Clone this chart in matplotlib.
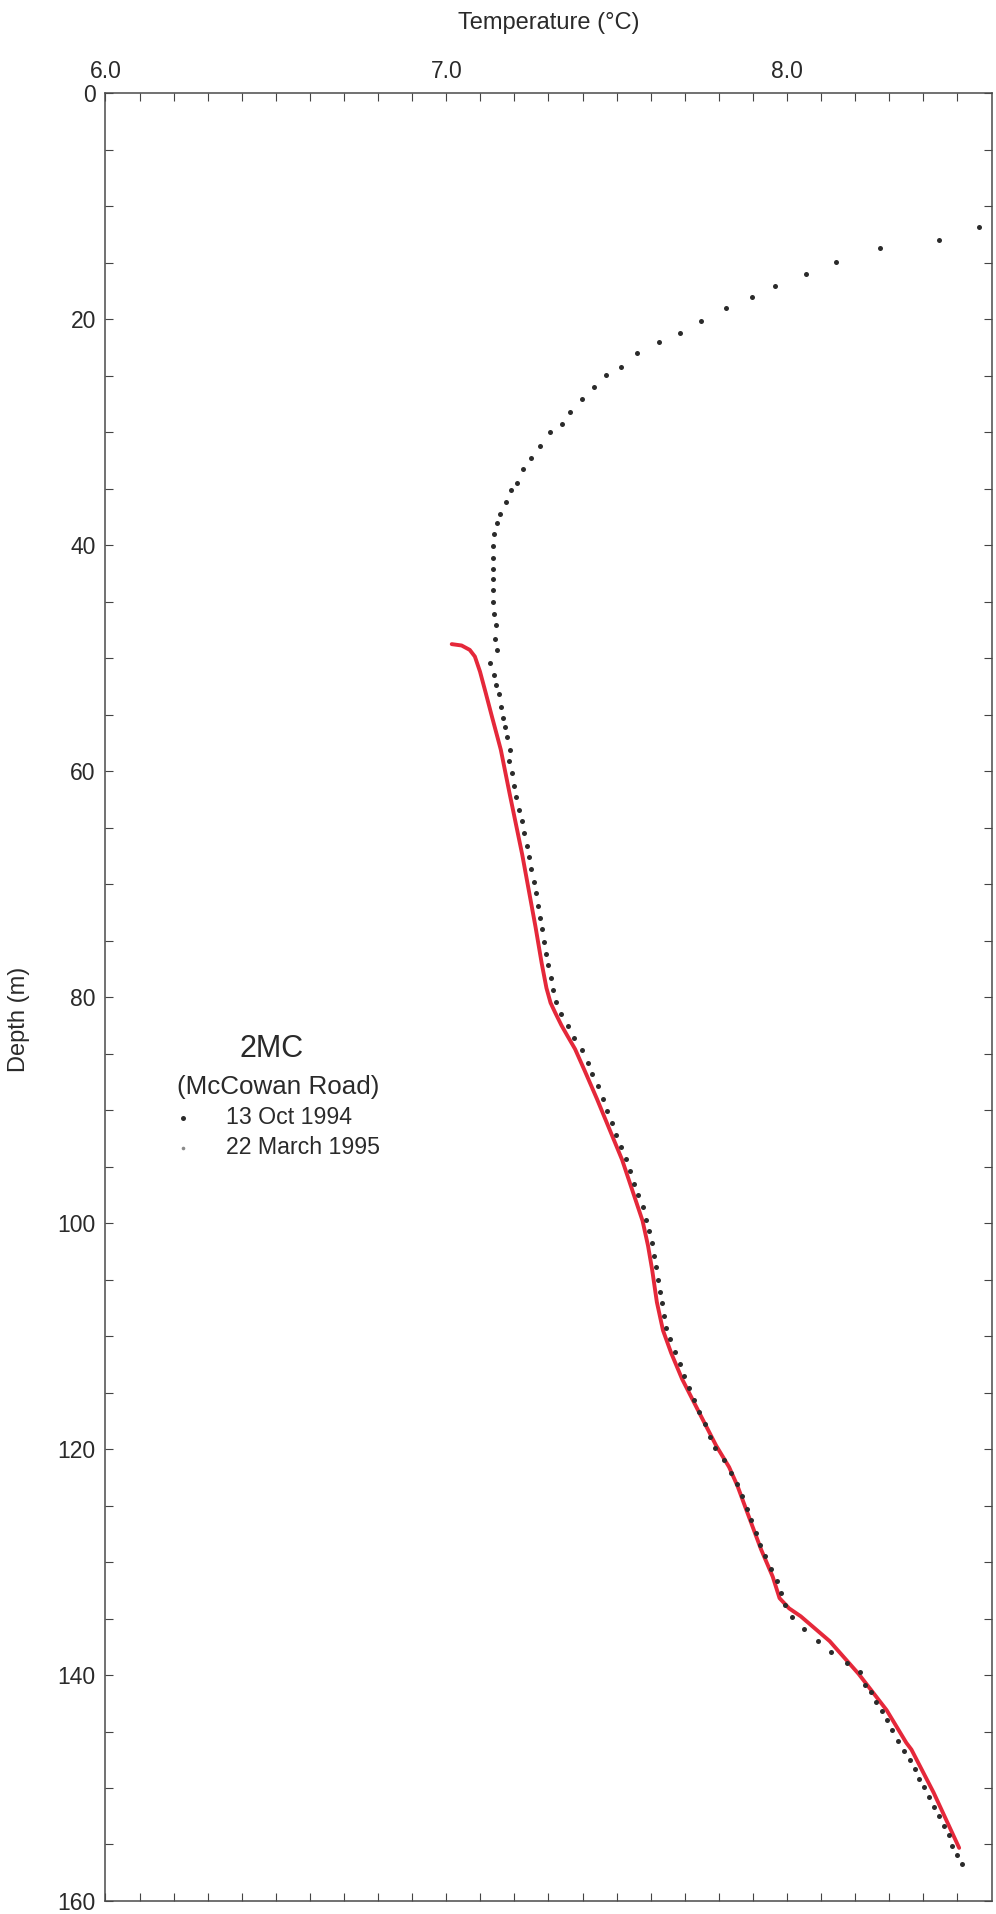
import matplotlib.pyplot as plt
import numpy as np

plt.rcParams['font.family'] = ['Liberation Sans', 'DejaVu Sans']

# 13 Oct 1994 run: depth (m) and temperature (deg C), one dot per reading
oct94_depth = [11.8, 13.0, 13.7, 14.9, 16.0, 17.1, 18.0, 19.0, 20.2, 21.2, 22.0, 23.0, 24.2, 24.9,
               26.0, 27.1, 28.2, 29.3, 30.0, 31.2, 32.3, 33.3, 34.5, 35.1, 36.2, 37.2, 38.0, 39.0,
               40.1, 41.1, 42.1, 43.0, 44.0, 45.0, 46.1, 47.1, 48.3, 49.3, 50.4, 51.5, 52.4, 53.2,
               54.3, 55.3, 56.1, 57.0, 58.1, 59.1, 60.2, 61.3, 62.3, 63.4, 64.4, 65.5, 66.6, 67.6,
               68.7, 69.8, 70.8, 71.9, 73.0, 74.0, 75.1, 76.2, 77.2, 78.3, 79.4, 80.4, 81.5, 82.6,
               83.6, 84.7, 85.8, 86.8, 87.9, 89.0, 90.1, 91.1, 92.2, 93.3, 94.3, 95.4, 96.5, 97.5,
               98.6, 99.7, 100.7, 101.8, 102.9, 103.9, 105.0, 106.1, 107.1, 108.2, 109.3, 110.3,
               111.4, 112.5, 113.5, 114.6, 115.7, 116.7, 117.8, 118.9, 119.9, 121.0, 122.1, 123.1,
               124.2, 125.3, 126.3, 127.4, 128.5, 129.5, 130.6, 131.7, 132.7, 133.8, 134.9, 135.9,
               137.0, 138.0, 138.9, 139.7, 140.9, 141.5, 142.4, 143.2, 144.0, 144.9, 145.8, 146.7,
               147.5, 148.3, 149.2, 149.9, 150.8, 151.7, 152.5, 153.4, 154.2, 155.1, 155.9, 156.7]
oct94_temp = [8.564, 8.447, 8.273, 8.143, 8.055, 7.966, 7.897, 7.820, 7.748, 7.685, 7.624, 7.561,
              7.512, 7.469, 7.433, 7.398, 7.364, 7.340, 7.305, 7.276, 7.250, 7.225, 7.208, 7.190,
              7.174, 7.158, 7.150, 7.141, 7.137, 7.137, 7.136, 7.136, 7.136, 7.136, 7.140, 7.145,
              7.143, 7.148, 7.128, 7.139, 7.147, 7.154, 7.160, 7.167, 7.172, 7.179, 7.186, 7.185,
              7.192, 7.199, 7.206, 7.214, 7.221, 7.228, 7.236, 7.242, 7.249, 7.256, 7.262, 7.269,
              7.275, 7.281, 7.287, 7.293, 7.299, 7.306, 7.313, 7.322, 7.338, 7.357, 7.376, 7.398,
              7.415, 7.429, 7.444, 7.459, 7.472, 7.485, 7.499, 7.513, 7.527, 7.540, 7.552, 7.564,
              7.576, 7.587, 7.596, 7.603, 7.609, 7.615, 7.621, 7.627, 7.633, 7.639, 7.646, 7.657,
              7.671, 7.685, 7.699, 7.713, 7.728, 7.743, 7.758, 7.774, 7.790, 7.814, 7.837, 7.853,
              7.868, 7.882, 7.895, 7.908, 7.921, 7.934, 7.952, 7.970, 7.982, 7.994, 8.015, 8.050,
              8.090, 8.130, 8.175, 8.213, 8.230, 8.245, 8.262, 8.278, 8.293, 8.308, 8.326, 8.344,
              8.362, 8.376, 8.388, 8.403, 8.417, 8.432, 8.446, 8.461, 8.474, 8.485, 8.498, 8.513]

# 22 March 1995 run: continuous trace
mar95_depth = [48.76, 48.88, 49.27, 49.86, 51.19, 53.1, 55.17, 57.08, 58.1, 62.0, 67.4, 73.8,
               77.0, 79.2, 80.5, 81.4, 82.5, 83.4, 84.6, 86.5, 89.0, 94.4, 99.8, 102.0, 104.1,
               107.0, 109.5, 111.5, 113.8, 117.0, 119.7, 121.6, 123.3, 125.1, 128.9, 131.3, 133.2,
               134.1, 134.8, 137.0, 139.9, 143.1, 146.0, 146.6, 150.4, 155.3]
mar95_temp = [7.016, 7.045, 7.069, 7.084, 7.099, 7.116, 7.134, 7.151, 7.160, 7.186, 7.223, 7.262,
              7.280, 7.294, 7.306, 7.320, 7.338, 7.355, 7.378, 7.406, 7.442, 7.516, 7.576, 7.592,
              7.604, 7.618, 7.636, 7.660, 7.692, 7.746, 7.792, 7.830, 7.855, 7.877, 7.924, 7.958,
              7.978, 8.006, 8.040, 8.125, 8.210, 8.292, 8.350, 8.365, 8.430, 8.505]

site_name = "2MC"
site_road = "(McCowan Road)"
run_labels = ["13 Oct 1994", "22 March 1995"]

ink = '#2a2a2a'
W, H = 996, 1914


def px(x, y):
    # figure pixel position (from top-left) to figure fraction
    return x / W, 1 - y / H


fig = plt.figure(figsize=(W / 100, H / 100), dpi=100)
ax = fig.add_axes([0.1059, 0.0068, 0.8896, 0.9445])

ax.plot(oct94_temp, oct94_depth, 'o', ms=3.6, color='#2b2b2b', mec='none', zorder=3)
ax.plot(mar95_temp, mar95_depth, '-', lw=2.8, color='#e5283a', solid_capstyle='round',
        solid_joinstyle='round', zorder=2)

ax.set_xlim(6.0, 8.6)
ax.set_ylim(160, 0)

xticks = np.round(np.arange(6.0, 8.55, 0.1), 1)
ax.set_xticks(xticks)
ax.set_xticklabels(["%.1f" % t if abs(t - round(t)) < 1e-6 else "" for t in xticks])
yticks = np.arange(0, 161, 5)
ax.set_yticks(yticks)
ax.set_yticklabels([str(d) if d % 20 == 0 else "" for d in yticks])

ax.tick_params(axis='x', top=True, bottom=True, labeltop=True, labelbottom=False,
               direction='in', length=5.5, width=0.8, pad=7, labelsize=16.5, colors='#444444',
               labelcolor=ink)
ax.tick_params(axis='y', left=True, right=True, labelleft=True, labelright=False,
               direction='in', length=5.5, width=0.8, pad=7, labelsize=16.5, colors='#444444',
               labelcolor=ink)
for s in ax.spines.values():
    s.set_linewidth(1.1)
    s.set_color('#4a4a4a')

fig.text(*px(549, 23), "Temperature (°C)", ha='center', va='center', fontsize=17, color=ink)
fig.text(*px(19, 1019), "Depth (m)", ha='center', va='center', rotation=90, fontsize=17, color=ink)

# site key
fig.text(*px(272, 1049), site_name, ha='center', va='center', fontsize=22, color=ink)
fig.text(*px(278, 1087), site_road, ha='center', va='center', fontsize=18.7, color=ink)
fig.text(*px(226, 1118), run_labels[0], ha='left', va='center', fontsize=16.7, color=ink)
fig.text(*px(226, 1147), run_labels[1], ha='left', va='center', fontsize=16.7, color=ink)
key = fig.add_axes([0, 0, 1, 1], facecolor='none')
key.set_xlim(0, W)
key.set_ylim(H, 0)
key.axis('off')
key.plot([183], [1118], 'o', ms=3.6, color='#2b2b2b', mec='none')
key.plot([183], [1148], 'o', ms=2.6, color='#8a8a8a', mec='none')

fig.savefig('out.png', dpi=100)
